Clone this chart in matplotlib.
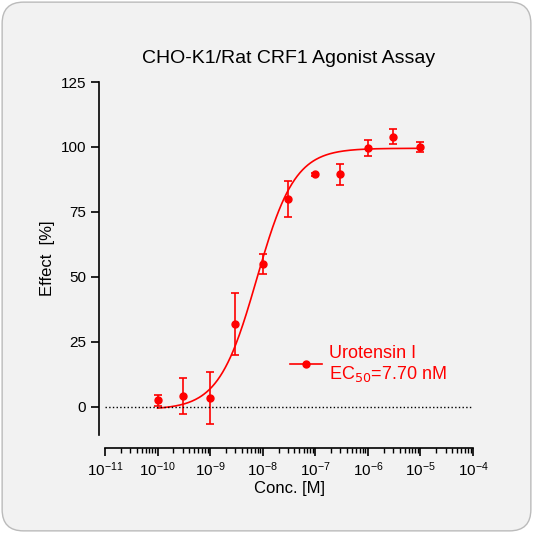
import numpy as np
import matplotlib
matplotlib.use("Agg")
import matplotlib.pyplot as plt
from matplotlib.patches import FancyBboxPatch

plt.rcParams['font.family'] = ['Liberation Sans', 'DejaVu Sans']

conc = [1e-10, 3e-10, 1e-9, 3e-9, 1e-8, 3e-8, 1e-7, 3e-7, 1e-6, 3e-6, 1e-5]
effect = [2.5, 4.2, 3.5, 32, 55, 80, 89.5, 89.5, 99.5, 104, 100]
err = [2, 7, 10, 12, 4, 7, 0.5, 4, 3, 3, 2]

# fit parameters
ec50 = 7.7e-9
bottom, top, hill = -1.0, 99.5, 1.2

fig = plt.figure(figsize=(5.33, 5.33), dpi=100)
fig.patch.set_facecolor('white')
bg = FancyBboxPatch((0.004, 0.004), 0.992, 0.992, boxstyle="round,pad=0,rounding_size=0.04",
                    transform=fig.transFigure, facecolor='#f2f2f2', edgecolor='#bbbbbb', lw=1, zorder=-10)
fig.patches.append(bg)
ax = fig.add_axes([105/533, 98/533, 368/533, 353/533])
ax.set_facecolor('none')

xs = np.logspace(-10, -5, 300)
ax.plot(xs, bottom + (top - bottom) / (1 + (ec50 / xs) ** hill), color='red', lw=1.2)
ax.errorbar(conc, effect, yerr=err, fmt='o', color='red', ms=5, capsize=3, elinewidth=1.2, capthick=1.2)
ax.axhline(0, color='black', ls=':', lw=1)

ax.set_xscale('log')
ax.set_xlim(1e-11, 1e-4)
ax.set_ylim(-10.8, 125)
ax.set_yticks([0, 25, 50, 75, 100, 125])
ax.set_xticks([10.0 ** k for k in range(-11, -3)])
ax.xaxis.set_minor_locator(matplotlib.ticker.LogLocator(base=10, subs=np.arange(2, 10)))
ax.spines['top'].set_visible(False)
ax.spines['right'].set_visible(False)
ax.spines['bottom'].set_position(('outward', 9))
ax.spines['left'].set_position(('outward', 4))
ax.tick_params(labelsize=11, width=1.2, length=6)
ax.tick_params(which='minor', width=1, length=3.5)
for s in ax.spines.values():
    s.set_linewidth(1.2)

ax.set_xlabel('Conc. [M]', fontsize=12, labelpad=1)
ax.set_ylabel('Effect  [%]', fontsize=12)
ax.set_title('CHO-K1/Rat CRF1 Agonist Assay', fontsize=14, pad=14)

ax.plot([0.503, 0.59], [0.20, 0.20], transform=ax.transAxes, color='red', lw=1.2, clip_on=False)
ax.plot([0.546], [0.20], transform=ax.transAxes, color='red', marker='o', ms=5)
ax.text(0.61, 0.20, 'Urotensin I\nEC$_{50}$=7.70 nM', transform=ax.transAxes, color='red',
        fontsize=13, va='center', linespacing=1.1)

fig.savefig('out.png', dpi=100)
